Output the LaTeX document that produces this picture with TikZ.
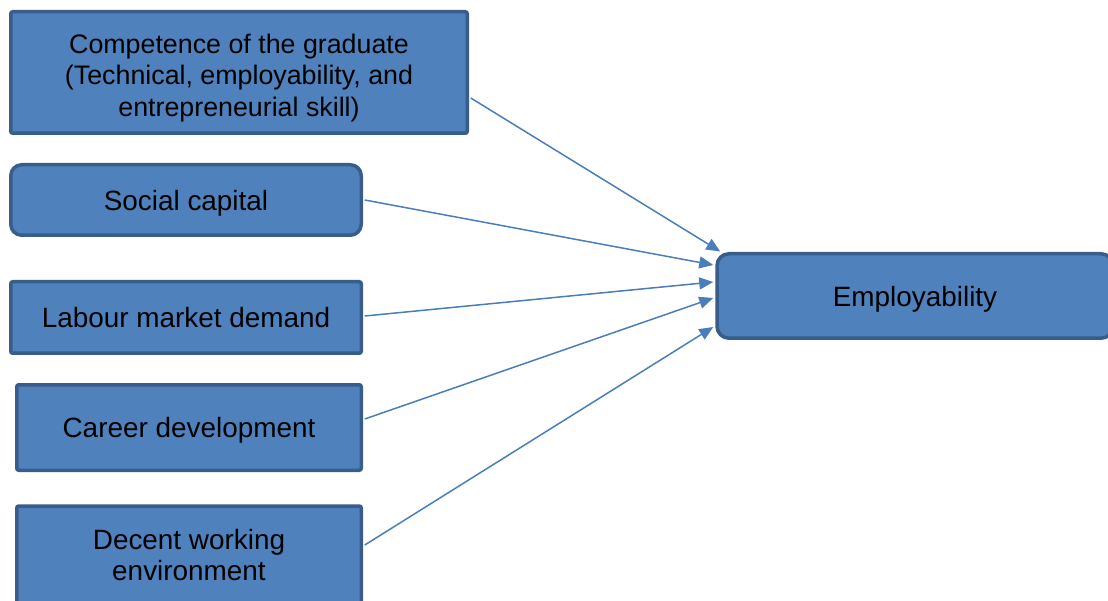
\documentclass[tikz,border=0pt]{standalone}
\usepackage{fontspec}
\setmainfont{Liberation Sans}
\usetikzlibrary{arrows.meta,calc}
\definecolor{boxfill}{HTML}{4F81BD}
\definecolor{boxline}{HTML}{385D8A}
\definecolor{arrowcol}{HTML}{4A7EBB}
\tikzset{
  factor/.style={draw=boxline, fill=boxfill, line width=3.5pt, align=center,
    font=\fontsize{27.9}{31.7}\selectfont, text=black, inner sep=0pt,
    text depth=0pt},
  caption/.style={align=center, text=black, inner sep=0pt},
  link/.style={draw=arrowcol, line width=1.5pt,
    -{Triangle[length=14pt,width=12pt]}}
}
\begin{document}
\begin{tikzpicture}[x=1pt,y=-1pt]
  \clip (0,0) rectangle (1108,601);
  \useasboundingbox (0,0) rectangle (1108,601);

  % factor boxes
  \node[factor, rounded corners=2pt, minimum width=456.5pt, minimum height=121.5pt]
    (comp) at (239,72.5) {};
  \node[caption, font=\fontsize{26.8}{31.7}\selectfont]
    (comptext) at ($(comp.center)+(0,5.5)$)
    {Competence of the graduate\\(Technical, employability, and\\entrepreneurial skill)};
  \node[factor, rounded corners=11pt, minimum width=350.5pt, minimum height=70.5pt]
    (soc) at (186,200) {Social capital};
  \node[factor, rounded corners=2pt, minimum width=350.5pt, minimum height=71.5pt]
    (lab) at (186,317.5) {Labour market demand};
  \node[factor, rounded corners=2pt, minimum width=344.5pt, minimum height=85.5pt]
    (car) at (189,427.5) {Career development};
  \node[factor, rounded corners=2pt, minimum width=344.5pt, minimum height=100pt]
    (dec) at (189,556) {};
  \node[caption, font=\fontsize{27.9}{31.7}\selectfont]
    (dectext) at ($(dec.center)+(0,-1)$) {Decent working\\environment};
  \node[factor, rounded corners=12pt, minimum width=396pt, minimum height=84.5pt]
    (emp) at (915,296) {Employability};

  % influences on employability
  \draw[link] ($(comp.east)+(1.75,25.5)$) -- ($(emp.north west)+(5,-0.5)$);
  \draw[link] ($(soc.east)+(1.75,0)$) -- ($(emp.west)+(-2,-31)$);
  \draw[link] ($(lab.east)+(1.75,-1.5)$) -- ($(emp.west)+(-2,-14)$);
  \draw[link] ($(car.east)+(1.75,-8.5)$) -- ($(emp.west)+(-2,2)$);
  \draw[link] ($(dec.east)+(1.75,-11)$) -- ($(emp.west)+(-2,31)$);
\end{tikzpicture}
\end{document}
